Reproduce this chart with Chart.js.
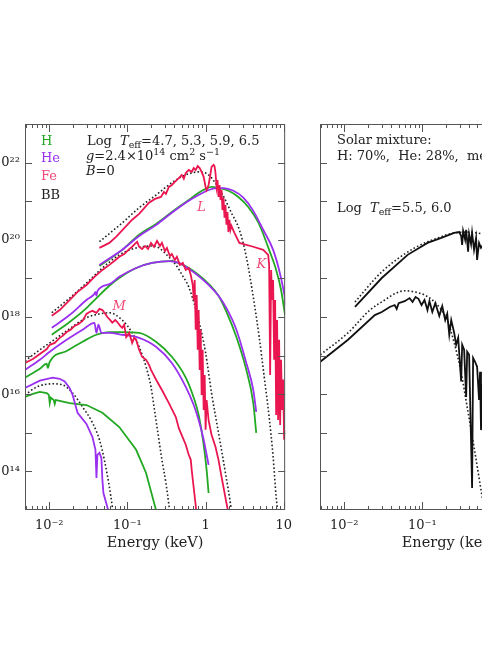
<!DOCTYPE html>
<html>
<head>
<meta charset="utf-8">
<script src="https://cdn.jsdelivr.net/npm/chart.js@4.4.1/dist/chart.umd.min.js"></script>
<style>
  html, body { margin: 0; padding: 0; background: #fff; overflow: hidden; }
  body { width: 482px; height: 654px; position: relative; }
  canvas { position: absolute; top: 0; }
  #left { left: -20px; }
  #right { left: 275px; }
</style>
</head>
<body>
<canvas id="left" width="320" height="654"></canvas>
<canvas id="right" width="320" height="654"></canvas>
<script>
// axis ranges (keV, flux)
const xMin = 0.00489, xMax = 10.45;
const yMin = 1e13, yMax = 1e23;

const xMajor = [0.01, 0.1, 1, 10];
const xLabels = ['10⁻²', '10⁻¹', '1', '10'];
const xDecades = [0.001, 0.01, 0.1, 1];
const xMinorSteps = [2, 3, 4, 5, 6, 7, 8, 9];
const yDecades = [1e14, 1e15, 1e16, 1e17, 1e18, 1e19, 1e20, 1e21, 1e22];
const yLabelled = [1e14, 1e16, 1e18, 1e20, 1e22];
const yLabels = ['10¹⁴', '10¹⁶', '10¹⁸', '10²⁰', '10²²'];

// spectra, pairs of [log10 E(keV), log10 flux]
// log Teff = 6.5
const fe65 = [[-1.358,19.79],[-1.231,19.92],[-1.142,20.08],[-0.939,20.52],[-0.850,20.67],[-0.723,20.96],[-0.647,21.06],[-0.571,21.11],[-0.532,21.24],[-0.507,21.19],[-0.469,21.37],[-0.431,21.42],[-0.393,21.50],[-0.342,21.60],[-0.304,21.68],[-0.278,21.58],[-0.253,21.73],[-0.215,21.81],[-0.177,21.76],[-0.151,21.86],[-0.126,21.81],[-0.100,21.91],[-0.075,21.86],[-0.050,21.76],[-0.024,21.63],[0.001,21.37],[0.014,21.29],[0.039,21.42],[0.065,21.73],[0.077,21.89],[0.103,21.94],[0.115,21.91],[0.128,21.73],[0.141,21.37],[0.153,21.55],[0.166,21.11],[0.179,21.42],[0.192,21.03],[0.205,21.29],[0.217,20.77],[0.230,21.09],[0.243,20.57],[0.255,20.90],[0.268,20.39],[0.281,20.72],[0.293,20.20],[0.306,20.52],[0.319,20.26],[0.331,20.36],[0.370,20.18],[0.433,19.92],[0.611,19.82],[0.738,19.74],[0.802,19.61],[0.814,19.35],[0.827,16.50],[0.840,19.22],[0.852,18.44],[0.865,18.96],[0.878,16.89],[0.891,18.44],[0.904,15.46],[0.916,17.92],[0.929,15.33],[0.942,17.41],[0.955,15.20],[0.967,16.89],[0.980,15.59],[0.993,16.38],[1.006,14.82],[1.018,15.07]];
const he65 = [[-1.358,19.35],[-1.066,19.74],[-0.850,20.10],[-0.634,20.38],[-0.431,20.70],[-0.215,21.01],[-0.088,21.16],[0.039,21.29],[0.141,21.34],[0.230,21.34],[0.357,21.27],[0.484,21.09],[0.611,20.75],[0.738,20.26],[0.865,19.74],[0.942,19.22],[1.006,18.62],[1.031,18.31]];
const h65 = [[-1.358,19.32],[-1.066,19.74],[-0.850,20.13],[-0.634,20.41],[-0.431,20.72],[-0.215,21.03],[-0.088,21.22],[0.001,21.32],[0.077,21.37],[0.166,21.34],[0.293,21.27],[0.420,21.11],[0.547,20.85],[0.675,20.45],[0.713,20.28],[0.814,19.74],[0.904,19.22],[0.967,18.70],[1.018,18.05]];
const bb65 = [[-1.358,19.95],[-1.066,20.44],[-0.850,20.83],[-0.634,21.16],[-0.380,21.55],[-0.215,21.71],[-0.088,21.76],[0.039,21.68],[0.205,21.22],[0.331,20.70],[0.433,20.26],[0.522,19.56],[0.611,18.52],[0.687,17.48],[0.751,16.45],[0.814,15.41],[0.865,14.38],[0.904,13.34],[0.929,12.92]];
// log Teff = 5.9
const fe59 = [[-1.968,18.03],[-1.867,18.18],[-1.740,18.44],[-1.638,18.65],[-1.524,18.83],[-1.422,19.04],[-1.320,19.22],[-1.231,19.35],[-1.168,19.45],[-1.104,19.56],[-1.041,19.63],[-0.977,19.76],[-0.939,19.82],[-0.901,19.90],[-0.875,19.95],[-0.850,19.82],[-0.812,19.76],[-0.774,19.84],[-0.736,19.76],[-0.698,19.92],[-0.659,19.82],[-0.621,19.97],[-0.583,19.84],[-0.558,19.92],[-0.520,19.71],[-0.494,19.79],[-0.456,19.58],[-0.431,19.63],[-0.393,19.48],[-0.367,19.56],[-0.329,19.35],[-0.291,19.40],[-0.253,19.22],[-0.215,19.27],[-0.189,19.09],[-0.164,18.83],[-0.151,18.44],[-0.139,18.96],[-0.126,17.67],[-0.113,18.57],[-0.100,17.15],[-0.088,18.18],[-0.075,16.63],[-0.062,17.67],[-0.050,15.98],[-0.037,17.15],[-0.024,15.59],[-0.011,16.50],[0.001,15.08],[0.014,15.85],[0.039,15.33],[0.077,14.95],[0.128,14.63],[0.166,14.30],[0.205,13.86],[0.268,13.18],[0.306,12.79]];
const he59 = [[-1.968,17.72],[-1.740,18.05],[-1.524,18.44],[-1.422,18.60],[-1.409,18.65],[-1.396,18.55],[-1.384,18.67],[-1.231,18.85],[-1.104,19.04],[-0.888,19.27],[-0.685,19.40],[-0.469,19.45],[-0.342,19.40],[-0.215,19.25],[-0.088,19.06],[0.039,18.83],[0.166,18.55],[0.268,18.23],[0.395,17.67],[0.522,16.81],[0.611,16.11],[0.649,15.54]];
const h59 = [[-1.968,17.54],[-1.740,17.87],[-1.524,18.23],[-1.396,18.49],[-1.231,18.81],[-1.104,19.01],[-0.888,19.27],[-0.685,19.40],[-0.443,19.45],[-0.215,19.27],[-0.088,19.09],[0.039,18.86],[0.166,18.55],[0.268,18.13],[0.395,17.48],[0.522,16.63],[0.611,15.77],[0.649,15.00]];
const bb59 = [[-1.968,18.11],[-1.740,18.49],[-1.524,18.88],[-1.320,19.27],[-1.104,19.61],[-0.939,19.76],[-0.812,19.82],[-0.685,19.84],[-0.596,19.79],[-0.507,19.63],[-0.380,19.35],[-0.291,19.06],[-0.215,18.78],[-0.088,17.92],[0.001,17.07],[0.077,16.03],[0.166,15.00],[0.255,13.96],[0.331,13.00],[0.344,12.79]];
// log Teff = 5.3
const fe53 = [[-2.311,16.81],[-2.210,16.91],[-2.121,17.04],[-2.032,17.17],[-1.994,17.28],[-1.930,17.33],[-1.867,17.46],[-1.828,17.51],[-1.778,17.61],[-1.727,17.67],[-1.676,17.77],[-1.625,17.82],[-1.574,17.90],[-1.524,18.08],[-1.485,18.13],[-1.447,18.16],[-1.396,18.11],[-1.358,18.21],[-1.320,18.18],[-1.282,18.08],[-1.257,18.00],[-1.219,17.92],[-1.193,17.85],[-1.155,17.92],[-1.130,17.87],[-1.092,17.77],[-1.066,17.72],[-1.041,17.80],[-1.015,17.48],[-0.977,17.59],[-0.939,17.33],[-0.914,17.46],[-0.888,17.41],[-0.850,17.15],[-0.812,16.97],[-0.761,16.89],[-0.723,16.76],[-0.698,16.63],[-0.634,16.38],[-0.558,16.11],[-0.469,15.77],[-0.380,15.41],[-0.342,15.12],[-0.253,14.69],[-0.215,14.43],[-0.189,14.30],[-0.177,14.04],[-0.151,13.57],[-0.126,13.13],[-0.113,12.79]];
const he53 = [[-2.311,16.63],[-2.121,16.89],[-1.994,17.10],[-1.778,17.41],[-1.574,17.67],[-1.422,17.85],[-1.396,17.59],[-1.371,17.80],[-1.333,17.59],[-1.231,17.59],[-1.066,17.54],[-0.850,17.46],[-0.634,17.23],[-0.431,16.81],[-0.253,16.19],[-0.151,15.72],[-0.088,15.33],[-0.024,14.82],[0.039,14.17]];
const h53 = [[-2.311,16.43],[-2.121,16.66],[-2.032,16.79],[-2.019,16.68],[-1.994,16.84],[-1.778,17.12],[-1.574,17.36],[-1.396,17.54],[-1.231,17.61],[-1.066,17.61],[-0.850,17.59],[-0.634,17.36],[-0.431,16.97],[-0.253,16.43],[-0.151,15.91],[-0.088,15.46],[-0.024,14.69],[0.014,14.04],[0.039,13.44]];
const bb53 = [[-2.311,16.86],[-2.121,17.15],[-1.994,17.33],[-1.778,17.64],[-1.524,17.98],[-1.358,18.08],[-1.231,18.11],[-1.066,17.92],[-0.939,17.59],[-0.850,17.23],[-0.761,16.71],[-0.698,16.19],[-0.659,15.67],[-0.621,15.15],[-0.558,14.30],[-0.507,13.70],[-0.469,13.13],[-0.456,12.87]];
// log Teff = 4.7
const he47 = [[-2.311,16.16],[-2.121,16.35],[-1.956,16.43],[-1.867,16.40],[-1.803,16.33],[-1.740,16.16],[-1.701,15.98],[-1.638,15.52],[-1.524,15.23],[-1.447,14.89],[-1.409,14.56],[-1.396,13.83],[-1.384,14.43],[-1.358,14.48],[-1.333,14.35],[-1.320,13.78],[-1.307,13.44],[-1.282,13.26],[-1.257,13.08],[-1.231,12.87]];
const h47 = [[-2.311,15.93],[-2.210,16.01],[-2.121,16.06],[-2.032,16.03],[-2.006,15.98],[-1.994,15.77],[-1.981,15.91],[-1.943,15.85],[-1.930,15.75],[-1.917,15.85],[-1.867,15.83],[-1.740,15.77],[-1.524,15.72],[-1.320,15.52],[-1.104,15.15],[-0.888,14.56],[-0.761,13.96],[-0.634,13.00],[-0.621,12.87]];
const bb47 = [[-2.311,15.98],[-2.159,16.19],[-1.956,16.27],[-1.828,16.24],[-1.701,16.03],[-1.574,15.67],[-1.447,15.26],[-1.358,14.82],[-1.295,14.30],[-1.231,13.60],[-1.193,13.08],[-1.180,12.87]];
// solar mixture, log Teff = 6.0 and 5.5
const sol60 = [[-1.863,18.26],[-1.520,19.01],[-1.189,19.61],[-0.935,19.92],[-0.758,20.05],[-0.593,20.18],[-0.529,20.20],[-0.504,20.10],[-0.491,19.87],[-0.479,20.23],[-0.453,20.00],[-0.440,20.26],[-0.415,19.69],[-0.402,20.15],[-0.377,19.89],[-0.364,20.18],[-0.339,19.74],[-0.313,20.05],[-0.300,19.48],[-0.275,19.92],[-0.250,19.79],[-0.224,19.87]];
const solBb60 = [[-1.863,18.39],[-1.520,19.17],[-1.100,19.79],[-0.758,20.08],[-0.593,20.18],[-0.402,20.20],[-0.224,20.15]];
const sol55 = [[-2.307,16.84],[-1.952,17.41],[-1.609,18.05],[-1.520,18.13],[-1.418,18.26],[-1.355,18.31],[-1.329,18.21],[-1.304,18.36],[-1.227,18.41],[-1.164,18.49],[-1.126,18.39],[-1.088,18.52],[-1.050,18.47],[-1.011,18.31],[-0.973,18.44],[-0.935,18.18],[-0.910,18.41],[-0.873,18.13],[-0.835,18.36],[-0.784,18.03],[-0.746,18.28],[-0.708,17.92],[-0.682,18.08],[-0.656,17.54],[-0.631,17.92],[-0.593,17.59],[-0.568,17.28],[-0.542,17.46],[-0.504,16.33],[-0.491,17.28],[-0.466,17.15],[-0.440,15.93],[-0.427,17.10],[-0.402,17.02],[-0.364,13.57],[-0.351,16.94],[-0.326,16.84],[-0.300,16.71],[-0.275,15.85],[-0.262,16.58],[-0.250,15.07],[-0.224,16.38]];
const solBb55 = [[-2.307,17.02],[-1.952,17.59],[-1.672,18.18],[-1.482,18.44],[-1.355,18.60],[-1.227,18.68],[-1.100,18.65],[-0.973,18.57],[-0.846,18.39],[-0.682,17.92],[-0.593,17.33],[-0.504,16.56],[-0.427,15.67],[-0.339,14.63],[-0.250,13.52],[-0.199,12.87]];

const GREEN = '#22a822', PURPLE = '#9a30f0', RED = '#ea1650', PINK = '#f04a78', INK = '#222';
const FONT = '"DejaVu Serif", serif';

Chart.defaults.font.family = FONT;
Chart.defaults.color = INK;

const pts = arr => arr.map(p => ({x: 10 ** p[0], y: 10 ** p[1]}));
// smooth model curves get monotone interpolation, noisy spectra stay straight
const line = (arr, color, style) => ({
    data: pts(arr),
    borderColor: color,
    borderWidth: style === 'dot' ? 1.6 : 1.8,
    borderDash: style === 'dot' ? [1.6, 2.2] : [],
    cubicInterpolationMode: style === 'noisy' ? 'default' : 'monotone',
    pointRadius: 0,
    tension: 0,
    fill: false,
});

function axes(showY) {
    return {
        x: {
            type: 'logarithmic', min: xMin, max: xMax, bounds: 'data',
            grid: {display: false, drawTicks: false}, border: {display: false},
            afterBuildTicks: s => { s.ticks = xMajor.map(v => ({value: v})); },
            afterFit: s => { s.height = 45; },
            ticks: {
                padding: 8, autoSkip: false, maxRotation: 0, color: INK,
                font: {size: 13},
                callback: v => xLabels[xMajor.indexOf(v)] ?? '',
            },
            title: {display: true, text: 'Energy (keV)', color: INK, font: {size: 14.5}, padding: {top: 0, bottom: 3}},
        },
        y: {
            type: 'logarithmic', min: yMin, max: yMax, bounds: 'data',
            grid: {display: false, drawTicks: false}, border: {display: false},
            afterBuildTicks: s => { s.ticks = yLabelled.map(v => ({value: v})); },
            afterFit: s => { s.width = 45; },
            ticks: {
                display: showY, padding: 5, color: INK,
                font: {size: 13},
                callback: v => yLabels[yLabelled.indexOf(v)] ?? '',
            },
        },
    };
}

// frame with inward ticks on all four sides
const frame = {
    id: 'frame',
    afterDatasetsDraw(chart) {
        const {ctx, chartArea: a, scales: {x, y}} = chart;
        ctx.save();
        ctx.strokeStyle = '#555';
        ctx.lineWidth = 1;
        ctx.strokeRect(a.left + 0.5, a.top + 0.5, a.right - a.left - 1, a.bottom - a.top - 1);
        ctx.beginPath();
        const xTick = (v, len) => {
            if (v < xMin || v > xMax) return;
            const px = Math.round(x.getPixelForValue(v)) + 0.5;
            ctx.moveTo(px, a.bottom); ctx.lineTo(px, a.bottom - len);
            ctx.moveTo(px, a.top); ctx.lineTo(px, a.top + len);
        };
        xMajor.forEach(v => xTick(v, 8));
        xDecades.forEach(d => xMinorSteps.forEach(m => xTick(d * m, 4)));
        yDecades.forEach(v => {
            const py = Math.round(y.getPixelForValue(v)) + 0.5;
            ctx.moveTo(a.left, py); ctx.lineTo(a.left + 7, py);
            ctx.moveTo(a.right, py); ctx.lineTo(a.right - 7, py);
        });
        ctx.stroke();
        ctx.restore();
    }
};

function drawRuns(ctx, x, y, runs, color) {
    ctx.fillStyle = color;
    ctx.textBaseline = 'alphabetic';
    ctx.textAlign = 'left';
    for (const [text, kind] of runs) {
        const small = kind === 'sub' || kind === 'sup';
        ctx.font = (kind === 'i' ? 'italic ' : '') + (small ? 9.5 : 13) + 'px ' + FONT;
        const dy = kind === 'sub' ? 3 : kind === 'sup' ? -5 : 0;
        ctx.fillText(text, x, y + dy);
        x += ctx.measureText(text).width;
    }
}

// text notes: dx/dy from the chart area corner, or e/f in data units
const notes = {
    id: 'notes',
    afterDraw(chart, args, opts) {
        const {ctx, chartArea: a, scales: {x, y}} = chart;
        ctx.save();
        for (const n of opts.items || []) {
            if (n.e) {
                ctx.font = 'italic 13px ' + FONT;
                ctx.fillStyle = n.color;
                ctx.textAlign = 'center';
                ctx.textBaseline = 'middle';
                ctx.fillText(n.text, x.getPixelForValue(n.e), y.getPixelForValue(n.f));
            } else {
                drawRuns(ctx, a.left + n.dx, a.top + n.dy, n.runs, n.color || INK);
            }
        }
        ctx.restore();
    }
};

const leftNotes = [
    {dx: 16, dy: 21, runs: [['H', 'n']], color: GREEN},
    {dx: 16, dy: 38, runs: [['He', 'n']], color: PURPLE},
    {dx: 16, dy: 56, runs: [['Fe', 'n']], color: PINK},
    {dx: 16, dy: 75, runs: [['BB', 'n']], color: INK},
    {dx: 62, dy: 21, runs: [['Log  ', 'n'], ['T', 'i'], ['eff', 'sub'], ['=4.7, 5.3, 5.9, 6.5', 'n']]},
    {dx: 61, dy: 36, runs: [['g', 'i'], ['=2.4×10', 'n'], ['14', 'sup'], [' cm', 'n'], ['2', 'sup'], [' s', 'n'], ['−1', 'sup']]},
    {dx: 61, dy: 51, runs: [['B', 'i'], ['=0', 'n']]},
    {e: 10 ** -0.05, f: 10 ** 20.83, text: 'L', color: PINK},
    {e: 10 ** 0.713, f: 10 ** 19.35, text: 'K', color: PINK},
    {e: 10 ** -1.104, f: 10 ** 18.26, text: 'M', color: PINK},
];
const rightNotes = [
    {dx: 17, dy: 20, runs: [['Solar mixture:', 'n']]},
    {dx: 17, dy: 36, runs: [['H: 70%,  He: 28%,  metals: 2%', 'n']]},
    {dx: 17, dy: 88, runs: [['Log  ', 'n'], ['T', 'i'], ['eff', 'sub'], ['=5.5, 6.0', 'n']]},
];

function makeChart(id, datasets, showY, items) {
    return new Chart(document.getElementById(id), {
        type: 'line',
        data: {datasets},
        options: {
            responsive: false,
            animation: false,
            events: [],
            layout: {padding: {left: 0, right: 13, top: 124, bottom: 99}},
            scales: axes(showY),
            plugins: {legend: {display: false}, tooltip: {enabled: false}, notes: {items}},
        },
        plugins: [frame, notes],
    });
}

makeChart('left', [
    line(fe65, RED, 'noisy'), line(fe59, RED, 'noisy'), line(fe53, RED, 'noisy'),
    line(he65, PURPLE), line(he59, PURPLE), line(he53, PURPLE), line(he47, PURPLE, 'noisy'),
    line(h65, GREEN), line(h59, GREEN), line(h53, GREEN), line(h47, GREEN, 'noisy'),
    line(bb65, INK, 'dot'), line(bb59, INK, 'dot'), line(bb53, INK, 'dot'), line(bb47, INK, 'dot'),
], true, leftNotes);

makeChart('right', [
    line(sol60, '#111', 'noisy'), line(sol55, '#111', 'noisy'),
    line(solBb60, INK, 'dot'), line(solBb55, INK, 'dot'),
], false, rightNotes);
</script>
</body>
</html>
